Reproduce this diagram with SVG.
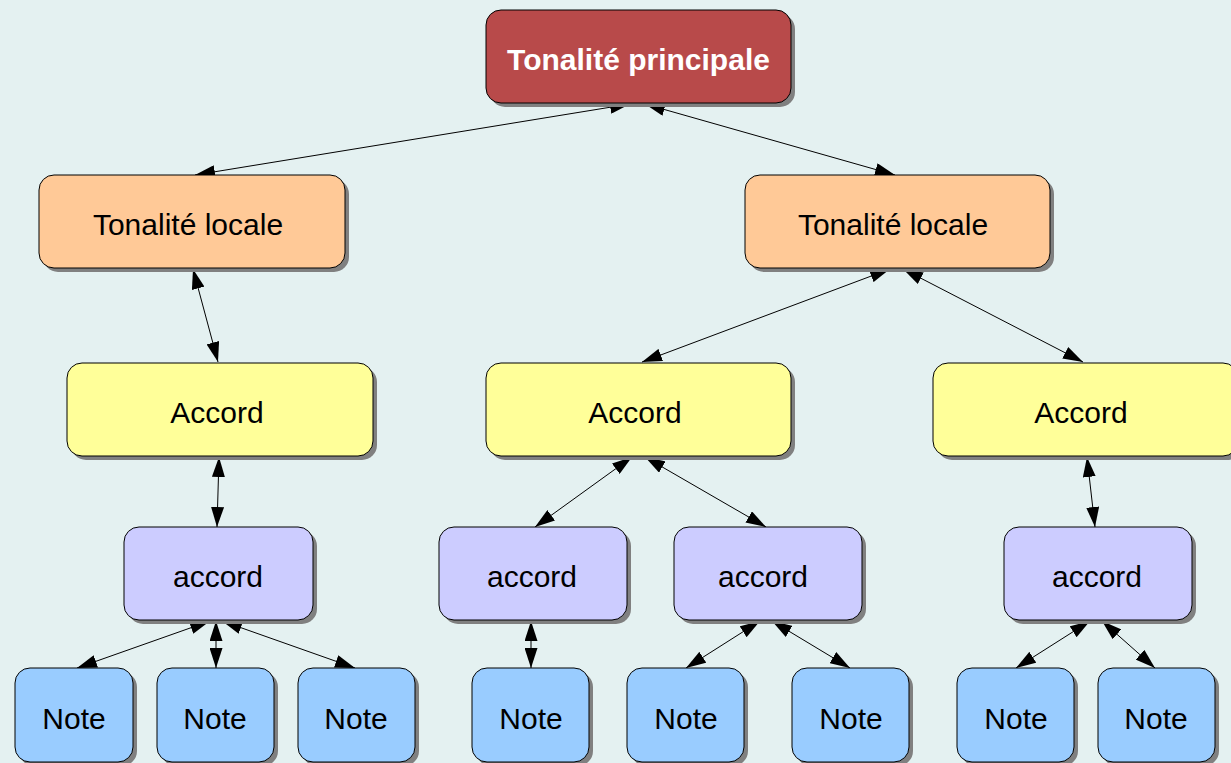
<svg xmlns="http://www.w3.org/2000/svg" width="1231" height="763" viewBox="0 0 1231 763">
  <defs>
    <marker id="ah" viewBox="0 0 20 13" refX="20" refY="6.5" markerWidth="20" markerHeight="13" markerUnits="userSpaceOnUse" orient="auto-start-reverse">
      <path d="M0,0 L20,6.5 L0,13 Z" fill="#000"/>
    </marker>
  </defs>
  <style>
    .shadow { fill: #808080; }
    .box { stroke: #000; stroke-width: 1; }
    .lbl { font-family: "Liberation Sans", Arial, sans-serif; font-size: 30px; text-anchor: middle; fill: #000; }
    .title { font-weight: bold; fill: #fff; }
    .main { fill: #b84a4a; }
    .local { fill: #ffc997; }
    .chord { fill: #ffff99; }
    .sub { fill: #ccccff; }
    .note { fill: #99ccff; }
    .edge { stroke: #000; stroke-width: 1; fill: none; marker-start: url(#ah); marker-end: url(#ah); }
  </style>
  <rect width="1231" height="763" fill="#e4f1f1"/>

  <g id="edges">
    <line class="edge" x1="630" y1="104" x2="195" y2="175"/>
    <line class="edge" x1="645" y1="104" x2="895" y2="175"/>
    <line class="edge" x1="193" y1="269" x2="218" y2="362"/>
    <line class="edge" x1="890" y1="269" x2="642" y2="362"/>
    <line class="edge" x1="903" y1="269" x2="1083" y2="362"/>
    <line class="edge" x1="219" y1="457" x2="217" y2="527"/>
    <line class="edge" x1="632" y1="457" x2="535" y2="527"/>
    <line class="edge" x1="645" y1="457" x2="766" y2="527"/>
    <line class="edge" x1="1087" y1="457" x2="1095" y2="527"/>
    <line class="edge" x1="210" y1="621" x2="77" y2="668"/>
    <line class="edge" x1="216" y1="621" x2="216" y2="668"/>
    <line class="edge" x1="222" y1="621" x2="355" y2="668"/>
    <line class="edge" x1="531" y1="621" x2="531" y2="668"/>
    <line class="edge" x1="760" y1="621" x2="686" y2="668"/>
    <line class="edge" x1="772" y1="621" x2="850" y2="668"/>
    <line class="edge" x1="1090" y1="621" x2="1016" y2="668"/>
    <line class="edge" x1="1102" y1="621" x2="1155" y2="668"/>
  </g>

  <g id="n-principale">
    <rect class="shadow" x="490" y="14" width="305" height="93" rx="15"/>
    <rect class="box main" x="486" y="10" width="305" height="93" rx="15"/>
    <text class="lbl title" x="638.5" y="70">Tonalité principale</text>
  </g>

  <g id="n-locale-1">
    <rect class="shadow" x="43" y="179" width="306" height="93" rx="15"/>
    <rect class="box local" x="39" y="175" width="306" height="93" rx="15"/>
    <text class="lbl" x="188" y="235">Tonalité locale</text>
  </g>
  <g id="n-locale-2">
    <rect class="shadow" x="749" y="179" width="305" height="93" rx="15"/>
    <rect class="box local" x="745" y="175" width="305" height="93" rx="15"/>
    <text class="lbl" x="893" y="235">Tonalité locale</text>
  </g>

  <g id="n-accord-1">
    <rect class="shadow" x="71" y="367" width="306" height="93" rx="15"/>
    <rect class="box chord" x="67" y="363" width="306" height="93" rx="15"/>
    <text class="lbl" x="217" y="423">Accord</text>
  </g>
  <g id="n-accord-2">
    <rect class="shadow" x="490" y="367" width="305" height="93" rx="15"/>
    <rect class="box chord" x="486" y="363" width="305" height="93" rx="15"/>
    <text class="lbl" x="635" y="423">Accord</text>
  </g>
  <g id="n-accord-3">
    <rect class="shadow" x="937" y="367" width="305" height="93" rx="15"/>
    <rect class="box chord" x="933" y="363" width="305" height="93" rx="15"/>
    <text class="lbl" x="1081" y="423">Accord</text>
  </g>

  <g id="n-sub-1">
    <rect class="shadow" x="128" y="531" width="189" height="93" rx="15"/>
    <rect class="box sub" x="124" y="527" width="189" height="93" rx="15"/>
    <text class="lbl" x="218" y="587">accord</text>
  </g>
  <g id="n-sub-2">
    <rect class="shadow" x="443" y="531" width="188" height="93" rx="15"/>
    <rect class="box sub" x="439" y="527" width="188" height="93" rx="15"/>
    <text class="lbl" x="532" y="587">accord</text>
  </g>
  <g id="n-sub-3">
    <rect class="shadow" x="678" y="531" width="188" height="93" rx="15"/>
    <rect class="box sub" x="674" y="527" width="188" height="93" rx="15"/>
    <text class="lbl" x="763" y="587">accord</text>
  </g>
  <g id="n-sub-4">
    <rect class="shadow" x="1008" y="531" width="188" height="93" rx="15"/>
    <rect class="box sub" x="1004" y="527" width="188" height="93" rx="15"/>
    <text class="lbl" x="1097" y="587">accord</text>
  </g>

  <g id="n-note-1">
    <rect class="shadow" x="19" y="672" width="118" height="94" rx="15"/>
    <rect class="box note" x="15" y="668" width="118" height="94" rx="15"/>
    <text class="lbl" x="74" y="729">Note</text>
  </g>
  <g id="n-note-2">
    <rect class="shadow" x="161" y="672" width="117" height="94" rx="15"/>
    <rect class="box note" x="157" y="668" width="117" height="94" rx="15"/>
    <text class="lbl" x="215" y="729">Note</text>
  </g>
  <g id="n-note-3">
    <rect class="shadow" x="302" y="672" width="117" height="94" rx="15"/>
    <rect class="box note" x="298" y="668" width="117" height="94" rx="15"/>
    <text class="lbl" x="356" y="729">Note</text>
  </g>
  <g id="n-note-4">
    <rect class="shadow" x="476" y="672" width="117" height="94" rx="15"/>
    <rect class="box note" x="472" y="668" width="117" height="94" rx="15"/>
    <text class="lbl" x="531" y="729">Note</text>
  </g>
  <g id="n-note-5">
    <rect class="shadow" x="631" y="672" width="117" height="94" rx="15"/>
    <rect class="box note" x="627" y="668" width="117" height="94" rx="15"/>
    <text class="lbl" x="686" y="729">Note</text>
  </g>
  <g id="n-note-6">
    <rect class="shadow" x="796" y="672" width="117" height="94" rx="15"/>
    <rect class="box note" x="792" y="668" width="117" height="94" rx="15"/>
    <text class="lbl" x="851" y="729">Note</text>
  </g>
  <g id="n-note-7">
    <rect class="shadow" x="961" y="672" width="117" height="94" rx="15"/>
    <rect class="box note" x="957" y="668" width="117" height="94" rx="15"/>
    <text class="lbl" x="1016" y="729">Note</text>
  </g>
  <g id="n-note-8">
    <rect class="shadow" x="1102" y="672" width="117" height="94" rx="15"/>
    <rect class="box note" x="1098" y="668" width="117" height="94" rx="15"/>
    <text class="lbl" x="1156" y="729">Note</text>
  </g>
</svg>
